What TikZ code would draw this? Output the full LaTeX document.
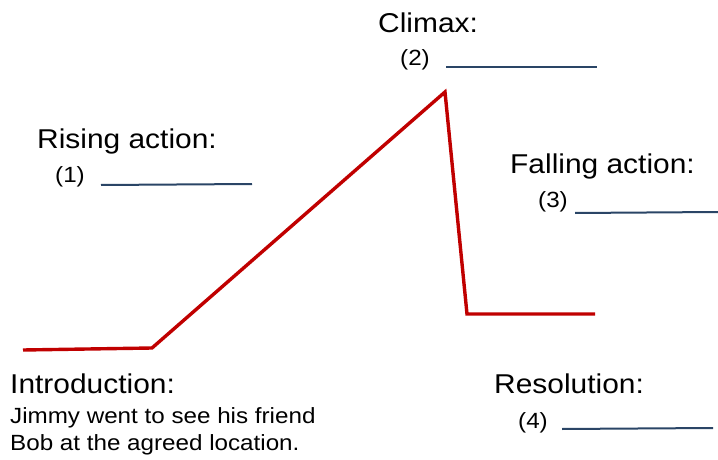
\documentclass[tikz,border=0pt]{standalone}
\usepackage{fontspec}
\setmainfont{Liberation Sans}[FakeStretch=1.1]
\usepackage{xcolor}
\usepackage{tikz}
\usetikzlibrary{positioning}
\definecolor{plotred}{HTML}{C00000}
\definecolor{blankblue}{HTML}{2A4566}

\begin{document}
\begin{tikzpicture}[x=1pt,y=-1pt,
    heading/.style={anchor=base west,inner sep=0pt,font=\fontsize{27.2}{31}\selectfont},
    body/.style={anchor=base west,inner sep=0pt,font=\fontsize{22}{26}\selectfont},
    blank/.style={draw=blankblue,line width=2pt},
    plot/.style={draw=plotred,line width=3.4pt,line join=miter}]
            \useasboundingbox (0,0) rectangle (718,460);
            % plot line
            \coordinate (s) at (23,350);
            \coordinate (a) at (152,348);
            \coordinate (p) at (445,92);
            \coordinate (b) at (467,314);
            \coordinate (e) at (595,314);
            \draw[plot] (s) -- (a) -- (p) -- (b) -- (e);
            % labels
            \node[heading](climax) at (378,33) {Climax:};
            \node[body](n2) at (400,66) {(2)};
            \node[heading](rising) at (37,148) {Rising action:};
            \node[body](n1) at (55,182) {(1)};
            \node[heading](falling) at (510,173) {Falling action:};
            \node[body](n3) at (538,207) {(3)};
            \node[heading](intro) at (10,393) {Introduction:};
            \node[body](line1) at (10,423) {Jimmy went to see his friend};
            \node[body](line2) at (10,450) {Bob at the agreed location.};
            \node[heading](resol) at (494,393) {Resolution:};
            \node[body](n4) at (518,428) {(4)};
            % blanks
            \coordinate (b2s) at (446,67);  \coordinate (b2e) at (597,67);
            \coordinate (b1s) at (101,185); \coordinate (b1e) at (252,184);
            \coordinate (b3s) at (575,213); \coordinate (b3e) at (718,212);
            \coordinate (b4s) at (562,429); \coordinate (b4e) at (713,428);
            \draw[blank] (b2s) -- (b2e);
            \draw[blank] (b1s) -- (b1e);
            \draw[blank] (b3s) -- (b3e);
            \draw[blank] (b4s) -- (b4e);
        \end{tikzpicture}
\end{document}
